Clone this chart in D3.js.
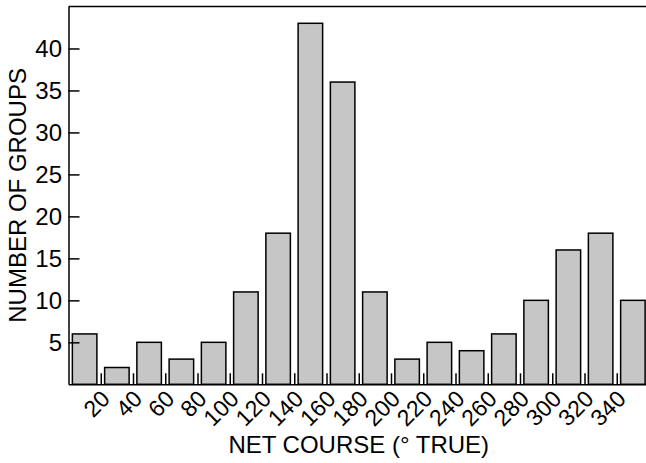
<!DOCTYPE html>
<html><head><meta charset="utf-8">
<script src="https://cdn.jsdelivr.net/npm/d3@7"></script>
<style>
html,body{margin:0;padding:0;background:#fff;}
svg{display:block;font-family:"Liberation Sans",Arial,Helvetica,sans-serif;}
</style></head>
<body>
<svg id="chart" width="646" height="463"></svg>
<script>
const binStarts = [0,20,40,60,80,100,120,140,160,180,200,220,240,260,280,300,320,340];
const counts = [6,2,5,3,5,11,18,43,36,11,3,5,4,6,10,16,18,10];
const xTickValues = [20,40,60,80,100,120,140,160,180,200,220,240,260,280,300,320,340];
const yTickValues = [5,10,15,20,25,30,35,40];
const xTitle = "NET COURSE (° TRUE)";
const yTitle = "NUMBER OF GROUPS";

const svg = d3.select("#chart");
const L = 68.5, R = 649, T = 6.5, B = 384.3;
const FS = 24;
const x = d3.scaleLinear().domain([0,360]).range([L,R]);
const y = d3.scaleLinear().domain([0,45]).range([B,T]);
const binW = 20;

svg.append("g").selectAll("rect").data(binStarts).join("rect")
  .attr("x", (d)=>x(d)+ (x(binW)-x(0))*0.12)
  .attr("width", (x(binW)-x(0))*0.76)
  .attr("y", (d,i)=>y(counts[i]))
  .attr("height", (d,i)=>y(0)-y(counts[i]))
  .attr("fill","#c6c6c6").attr("stroke","#000").attr("stroke-width",1.5);

// y axis
const yAxis = d3.axisLeft(y).tickValues(yTickValues).tickSizeInner(-11).tickSizeOuter(0).tickPadding(6.5);
const gy = svg.append("g").attr("transform",`translate(${L},0)`).call(yAxis);
gy.attr("font-size",FS).attr("font-family",null);
gy.select(".domain").attr("stroke-width",1.5);
gy.selectAll(".tick line").attr("stroke-width",1.5);
gy.selectAll("text").attr("fill","#000");

// x axis
const xAxis = d3.axisBottom(x).tickValues(xTickValues).tickSizeInner(-11).tickSizeOuter(0).tickFormat(d3.format("d"));
const gx = svg.append("g").attr("transform",`translate(0,${B})`).call(xAxis);
gx.attr("font-size",23).attr("font-family",null);
gx.select(".domain").attr("stroke-width",1.5);
gx.selectAll(".tick line").attr("stroke-width",1.5);
gx.selectAll("text").attr("fill","#000")
  .attr("text-anchor","end").attr("dy",null).attr("y",0)
  .attr("transform","translate(10,16) rotate(-45)");

// top border
svg.append("line").attr("x1",L).attr("x2",646).attr("y1",T).attr("y2",T).attr("stroke","#000").attr("stroke-width",1.5);

svg.append("text").attr("x",(L+R)/2).attr("y",453).attr("text-anchor","middle")
  .attr("font-size",FS).text(xTitle);
svg.append("text").attr("transform",`translate(26,${(T+B)/2}) rotate(-90)`).attr("text-anchor","middle")
  .attr("font-size",FS).text(yTitle);
</script>
</body></html>
